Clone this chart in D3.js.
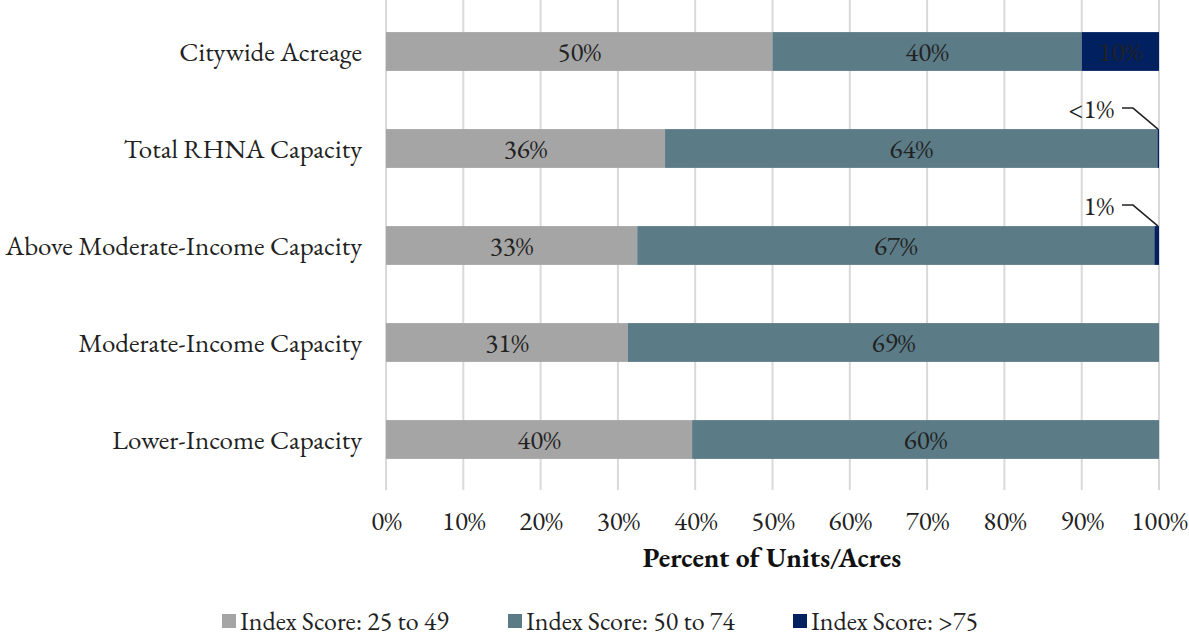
<!DOCTYPE html>
<html><head><meta charset="utf-8">
<script src="https://cdn.jsdelivr.net/npm/d3@7"></script>
<style>body{margin:0;background:#fff;} text{font-family:"EB Garamond",Garamond,"Liberation Serif",serif;}</style>
</head><body>
<svg id="c" width="1189" height="639"></svg>
<script>
const categories = ["Citywide Acreage","Total RHNA Capacity","Above Moderate-Income Capacity","Moderate-Income Capacity","Lower-Income Capacity"];
const seriesNames = ["Index Score: 25 to 49","Index Score: 50 to 74","Index Score: >75"];
const low = [50, 36.1, 32.5, 31.3, 39.6];
const mid = [40, 63.7, 66.9, 68.7, 60.4];
const high = [10, 0.2, 0.6, 0, 0];
const labelsLow = ["50%","36%","33%","31%","40%"];
const labelsMid = ["40%","64%","67%","69%","60%"];
const labelsHigh = ["10%","<1%","1%","",""];
const ticks = [0,10,20,30,40,50,60,70,80,90,100];
const colors = ["#A5A5A5","#5B7B86","#002060"];
const FS = 27;

const svg = d3.select("#c");
const x = d3.scaleLinear().domain([0,100]).range([386,1159]);
const y = d3.scaleBand().domain(categories).range([3,488]).paddingInner(0.6).paddingOuter(0.3);

// gridlines
svg.append("g").selectAll("line").data(ticks).join("line")
  .attr("x1",d=>x(d)).attr("x2",d=>x(d)).attr("y1",0).attr("y2",490)
  .attr("stroke","#d9d9d9").attr("stroke-width",2);

// axis labels
const ax = d3.axisBottom(x).tickValues(ticks).tickFormat(d=>d+"%").tickSize(0).tickPadding(0);
const axg = svg.append("g").attr("transform","translate(0,521)").call(ax);
axg.select(".domain").remove();
axg.selectAll("text").attr("font-size",27).attr("fill","#222").attr("dy","0.35em")
  .style("font-family",'"EB Garamond",Garamond,"Liberation Serif",serif');

svg.append("text").attr("x",772).attr("y",557).attr("dy","0.35em").attr("text-anchor","middle")
  .attr("font-size",27.5).attr("font-weight","bold").attr("fill","#111").text("Percent of Units/Acres");

// category labels
svg.append("g").selectAll("text").data(categories).join("text")
  .attr("x",362).attr("y",d=>y(d)+y.bandwidth()/2).attr("dy","0.35em")
  .attr("text-anchor","end").attr("font-size",FS).attr("fill","#222").text(d=>d);

const stacked = categories.map((c,i)=>{
  const vals=[low[i],mid[i],high[i]]; let s=0;
  return vals.map((v,k)=>{const o={cat:c,k,x0:s,x1:s+v,i}; s+=v; return o;});
});
const segs = stacked.flat();
svg.append("g").selectAll("rect").data(segs.filter(d=>d.x1>d.x0)).join("rect")
  .attr("x",d=>x(d.x0)).attr("width",d=>x(d.x1)-x(d.x0))
  .attr("y",d=>y(d.cat)).attr("height",y.bandwidth())
  .attr("fill",d=>colors[d.k]);

// in-bar labels
const lblArr=[labelsLow,labelsMid,labelsHigh];
svg.append("g").selectAll("text").data(segs.filter(d=>d.x1-d.x0>5)).join("text")
  .attr("x",d=>(x(d.x0)+x(d.x1))/2).attr("y",d=>y(d.cat)+y.bandwidth()/2).attr("dy","0.35em")
  .attr("text-anchor","middle").attr("font-size",FS).attr("fill","#222")
  .text(d=>lblArr[d.k][d.i]);

// callouts for small segments
const callouts = segs.filter(d=>d.k===2 && d.x1>d.x0 && d.x1-d.x0<=5);
callouts.forEach(d=>{
  const ex = x(d.x1)-1, ey = y(d.cat);
  const ly = ey-21;
  const g = svg.append("g");
  g.append("path").attr("d",`M${ex-36},${ly} L${ex-25},${ly} L${ex},${ey}`)
    .attr("fill","none").attr("stroke","#222").attr("stroke-width",1.5);
  g.append("text").attr("x",ex-44).attr("y",ly).attr("dy","0.35em").attr("text-anchor","end")
    .attr("font-size",FS).attr("fill","#222").text(lblArr[2][d.i]);
});

// legend
const legX=[222,508,793];
const lg = svg.append("g").selectAll("g").data(seriesNames).join("g")
  .attr("transform",(d,i)=>`translate(${legX[i]},614)`);
lg.append("rect").attr("width",14).attr("height",14).attr("fill",(d,i)=>colors[i]);
lg.append("text").attr("x",18).attr("y",7).attr("dy","0.33em").attr("font-size",26).attr("fill","#222").text(d=>d);
</script>
</body></html>
